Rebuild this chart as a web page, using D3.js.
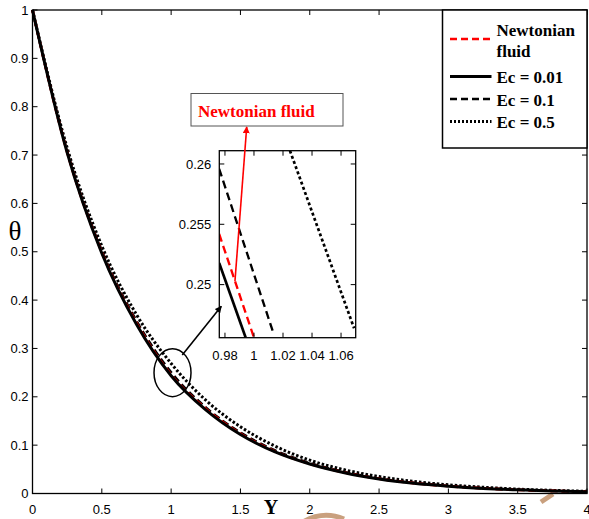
<!DOCTYPE html>
<html>
<head>
<meta charset="utf-8">
<script src="https://cdn.jsdelivr.net/npm/d3@7"></script>
<style>
  body { margin: 0; background: #fff; }
  svg { display: block; }
</style>
</head>
<body>
<div id="wrapper"></div>
<script>
// values
const yValues = [0, 0.25, 0.5, 0.75, 1, 1.25, 1.5, 1.75, 2, 2.25, 2.5, 2.75, 3, 3.25, 3.5, 3.75, 4]
const thetaNewtonian = [1, 0.706, 0.499, 0.353, 0.2456, 0.1755, 0.124, 0.087, 0.0615, 0.0435, 0.0305, 0.0215, 0.0152, 0.0107, 0.0076, 0.0054, 0.0038]
const thetaEc001 = [1, 0.705, 0.497, 0.350, 0.2436, 0.173, 0.122, 0.086, 0.061, 0.043, 0.030, 0.021, 0.015, 0.0105, 0.0075, 0.0053, 0.0037]
const thetaEc01 = [1, 0.708, 0.502, 0.357, 0.2508, 0.178, 0.126, 0.089, 0.063, 0.0445, 0.031, 0.022, 0.0155, 0.011, 0.0078, 0.0055, 0.0039]
const thetaEc05 = [1, 0.715, 0.512, 0.370, 0.269, 0.193, 0.138, 0.098, 0.069, 0.049, 0.035, 0.025, 0.018, 0.013, 0.009, 0.0065, 0.0045]

// zoomed window around Y = 1
const insetYNewtonian = [0.976, 1.0]
const insetThetaNewtonian = [0.2542, 0.2456]
const insetYEc001 = [0.976, 0.9943]
const insetThetaEc001 = [0.2518, 0.2456]
const insetYEc01 = [0.976, 1.0138]
const insetThetaEc01 = [0.2596, 0.24583]
const insetYEc05 = [1.0248, 1.069]
const insetThetaEc05 = [0.2611, 0.24638]

const xTicks = [0, 0.5, 1, 1.5, 2, 2.5, 3, 3.5, 4]
const yTicks = [0, 0.1, 0.2, 0.3, 0.4, 0.5, 0.6, 0.7, 0.8, 0.9, 1]
const insetXTicks = [0.98, 1, 1.02, 1.04, 1.06]
const insetYTicks = [0.25, 0.255, 0.26]

const styles = {
  "Newtonian fluid": { color: "#ff0000", dash: "7,4", insetDash: "8,4.5", width: 2.6 },
  "Ec = 0.01": { color: "#000", dash: null, insetDash: null, width: 3 },
  "Ec = 0.1": { color: "#000", dash: "7,4", insetDash: "8,4.5", width: 2.6 },
  "Ec = 0.5": { color: "#000", dash: "2.5,2", insetDash: "3,2.5", width: 3 }
}

const mainSeries = [
  { name: "Ec = 0.5", theta: thetaEc05 },
  { name: "Ec = 0.1", theta: thetaEc01 },
  { name: "Newtonian fluid", theta: thetaNewtonian },
  { name: "Ec = 0.01", theta: thetaEc001 }
].map(s => ({ name: s.name, points: yValues.map((y, i) => [y, s.theta[i]]) }))

const insetSeries = [
  { name: "Ec = 0.01", ys: insetYEc001, theta: insetThetaEc001 },
  { name: "Newtonian fluid", ys: insetYNewtonian, theta: insetThetaNewtonian },
  { name: "Ec = 0.1", ys: insetYEc01, theta: insetThetaEc01 },
  { name: "Ec = 0.5", ys: insetYEc05, theta: insetThetaEc05 }
].map(s => ({ name: s.name, points: s.ys.map((y, i) => [y, s.theta[i]]) }))

const width = 589
const height = 519
const margin = { top: 10, right: 2, bottom: 25.5, left: 32.5 }
const boundedWidth = width - margin.left - margin.right
const boundedHeight = height - margin.top - margin.bottom

const tickFont = "'Liberation Sans', Arial, sans-serif"
const serifFont = "'Liberation Serif', 'Times New Roman', serif"

const svg = d3.select("#wrapper")
  .append("svg")
    .attr("width", width)
    .attr("height", height)

const defs = svg.append("defs")
function arrowMarker(id, color) {
  defs.append("marker")
      .attr("id", id)
      .attr("viewBox", "0 0 10 10")
      .attr("refX", 9)
      .attr("refY", 5)
      .attr("markerWidth", 7)
      .attr("markerHeight", 7)
      .attr("markerUnits", "userSpaceOnUse")
      .attr("orient", "auto")
    .append("path")
      .attr("d", "M0,0 L10,5 L0,10 z")
      .attr("fill", color)
}
arrowMarker("arrowBlack", "#000")
arrowMarker("arrowRed", "#ff0000")

// watermark traces
svg.append("path")
    .attr("d", "M303,522 Q323,510 344,519")
    .attr("fill", "none")
    .attr("stroke", "#c9a07e")
    .attr("stroke-width", 5)
svg.append("path")
    .attr("d", "M541,502 L553,494")
    .attr("fill", "none")
    .attr("stroke", "#c9a07e")
    .attr("stroke-width", 5)

const bounds = svg.append("g")
    .attr("transform", `translate(${margin.left},${margin.top})`)

const xScale = d3.scaleLinear().domain([0, 4]).range([0, boundedWidth])
const yScale = d3.scaleLinear().domain([0, 1]).range([boundedHeight, 0])

// curves
const line = d3.line()
    .x(d => xScale(d[0]))
    .y(d => yScale(d[1]))
    .curve(d3.curveMonotoneX)

bounds.append("g")
  .selectAll("path")
  .data(mainSeries)
  .join("path")
    .attr("d", d => line(d.points))
    .attr("fill", "none")
    .attr("stroke", d => styles[d.name].color)
    .attr("stroke-width", d => styles[d.name].width)
    .attr("stroke-dasharray", d => styles[d.name].dash)

// axes, ticks pointing inwards on all four sides
const tickLen = 5
function frame(g, w, h, xs, ys, xt, yt, fmtX, fmtY, labelGapX, labelGapY) {
  g.append("rect")
      .attr("width", w)
      .attr("height", h)
      .attr("fill", "none")
      .attr("stroke", "#000")
      .attr("stroke-width", 1.3)
  const ticks = g.append("g").attr("stroke", "#000").attr("stroke-width", 1)
  xt.forEach(t => {
    ticks.append("line").attr("x1", xs(t)).attr("x2", xs(t)).attr("y1", h).attr("y2", h - tickLen)
    ticks.append("line").attr("x1", xs(t)).attr("x2", xs(t)).attr("y1", 0).attr("y2", tickLen)
  })
  yt.forEach(t => {
    ticks.append("line").attr("x1", 0).attr("x2", tickLen).attr("y1", ys(t)).attr("y2", ys(t))
    ticks.append("line").attr("x1", w).attr("x2", w - tickLen).attr("y1", ys(t)).attr("y2", ys(t))
  })
  g.append("g")
    .selectAll("text")
    .data(xt)
    .join("text")
      .attr("x", d => xs(d))
      .attr("y", h + labelGapX)
      .attr("text-anchor", "middle")
      .style("font-family", tickFont)
      .style("font-size", "13px")
      .text(fmtX)
  g.append("g")
    .selectAll("text")
    .data(yt)
    .join("text")
      .attr("x", -labelGapY)
      .attr("y", d => ys(d))
      .attr("dy", "0.35em")
      .attr("text-anchor", "end")
      .style("font-family", tickFont)
      .style("font-size", "13px")
      .text(fmtY)
}
frame(bounds, boundedWidth, boundedHeight, xScale, yScale, xTicks, yTicks,
  d => d3.format("")(d), d => d3.format("")(d), 20.5, 4)

// axis titles
svg.append("text")
    .attr("x", 271)
    .attr("y", 514)
    .attr("text-anchor", "middle")
    .style("font-family", serifFont)
    .style("font-weight", "bold")
    .style("font-size", "20px")
    .text("Y")
svg.append("text")
    .attr("x", 15)
    .attr("y", 240)
    .attr("text-anchor", "middle")
    .style("font-family", serifFont)
    .style("font-size", "27px")
    .text("θ")

// circle around the zoomed region
const ellipse = { cx: xScale(1.01), cy: yScale(0.25), rx: 18.5, ry: 24 }
bounds.append("ellipse")
    .attr("cx", ellipse.cx)
    .attr("cy", ellipse.cy)
    .attr("rx", ellipse.rx)
    .attr("ry", ellipse.ry)
    .attr("fill", "none")
    .attr("stroke", "#000")
    .attr("stroke-width", 1.5)

// inset
const inset = { x: 219.3, y: 150.7, w: 136.4, h: 187 }
const insetX = d3.scaleLinear().domain([0.9761, 1.0701]).range([0, inset.w])
const insetY = d3.scaleLinear().domain([0.2456, 0.2611]).range([inset.h, 0])

const insetG = svg.append("g")
    .attr("transform", `translate(${inset.x},${inset.y})`)
insetG.append("rect")
    .attr("width", inset.w)
    .attr("height", inset.h)
    .attr("fill", "#fff")
defs.append("clipPath")
    .attr("id", "insetClip")
  .append("rect")
    .attr("width", inset.w)
    .attr("height", inset.h)

const insetLine = d3.line()
    .x(d => insetX(d[0]))
    .y(d => insetY(d[1]))
insetG.append("g")
    .attr("clip-path", "url(#insetClip)")
  .selectAll("path")
  .data(insetSeries)
  .join("path")
    .attr("d", d => insetLine(d.points))
    .attr("fill", "none")
    .attr("stroke", d => styles[d.name].color)
    .attr("stroke-width", d => styles[d.name].width * 0.9)
    .attr("stroke-dasharray", d => styles[d.name].insetDash)

frame(insetG, inset.w, inset.h, insetX, insetY, insetXTicks, insetYTicks,
  d => d3.format("")(+d.toFixed(2)), d => d3.format("")(+d.toFixed(3)), 22, 8)

// arrow from the circle to the inset
const arrowStartAngle = -0.95
svg.append("line")
    .attr("x1", margin.left + ellipse.cx + ellipse.rx * Math.cos(arrowStartAngle) - 1)
    .attr("y1", margin.top + ellipse.cy + ellipse.ry * Math.sin(arrowStartAngle) + 2)
    .attr("x2", inset.x + insetX(0.9775))
    .attr("y2", inset.y + insetY(0.2482))
    .attr("stroke", "#000")
    .attr("stroke-width", 1.6)
    .attr("marker-end", "url(#arrowBlack)")

// Newtonian fluid callout
const callout = { x: 191, y: 93.5, w: 152, h: 32.5 }
svg.append("rect")
    .attr("x", callout.x)
    .attr("y", callout.y)
    .attr("width", callout.w)
    .attr("height", callout.h)
    .attr("fill", "#fff")
    .attr("stroke", "#555")
    .attr("stroke-width", 1)
svg.append("text")
    .attr("x", callout.x + 7)
    .attr("y", callout.y + 23)
    .style("font-family", serifFont)
    .style("font-weight", "bold")
    .style("font-size", "17px")
    .attr("fill", "#ff0000")
    .text("Newtonian fluid")
svg.append("line")
    .attr("x1", inset.x + insetX(0.9869))
    .attr("y1", inset.y + insetY(0.2503))
    .attr("x2", 246.7)
    .attr("y2", callout.y + callout.h + 1)
    .attr("stroke", "#ff0000")
    .attr("stroke-width", 1.6)
    .attr("marker-end", "url(#arrowRed)")

// legend
const legend = svg.append("g").attr("transform", "translate(442.5,10)")
legend.append("rect")
    .attr("width", 144.5)
    .attr("height", 138)
    .attr("fill", "#fff")
    .attr("stroke", "#000")
    .attr("stroke-width", 1.5)
const legendRows = [
  { name: "Newtonian fluid", lineY: 29, lines: ["Newtonian", "fluid"], textY: 26 },
  { name: "Ec = 0.01", lineY: 66.5, lines: ["Ec = 0.01"], textY: 73 },
  { name: "Ec = 0.1", lineY: 89, lines: ["Ec = 0.1"], textY: 95.5 },
  { name: "Ec = 0.5", lineY: 111.5, lines: ["Ec = 0.5"], textY: 118 }
]
legendRows.forEach(r => {
  const s = styles[r.name]
  legend.append("line")
      .attr("x1", 7.5)
      .attr("x2", 49)
      .attr("y1", r.lineY)
      .attr("y2", r.lineY)
      .attr("stroke", s.color)
      .attr("stroke-width", s.width)
      .attr("stroke-dasharray", r.name === "Ec = 0.5" ? "2,2" : s.dash)
  const t = legend.append("text")
      .attr("x", 54)
      .attr("y", r.textY)
      .style("font-family", serifFont)
      .style("font-weight", "bold")
      .style("font-size", "17px")
  r.lines.forEach((l, i) => {
    t.append("tspan").attr("x", 54).attr("dy", i === 0 ? 0 : 21).text(l)
  })
})
</script>
</body>
</html>
